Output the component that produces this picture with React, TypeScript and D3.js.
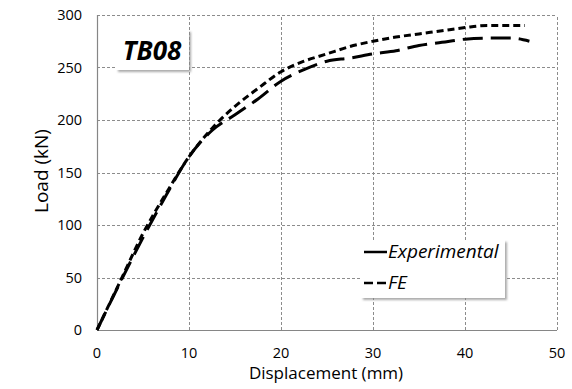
import React, { useRef, useEffect } from 'react';
import * as d3 from 'd3';

const dispExp = [0, 2.5, 5, 7.5, 10, 12.5, 15, 17.5, 20, 22.5, 25, 27.5, 30, 32.5, 35, 37.5, 40, 42.5, 45, 47];
const loadExp = [0, 45, 88, 128, 165, 190, 205, 220, 237, 248, 256, 259, 263, 266, 271, 274, 277, 278, 278, 275];
const dispFE = [0, 2.5, 5, 7.5, 10, 12.5, 15, 17.5, 20, 22.5, 25, 27.5, 30, 32.5, 35, 37.5, 40, 42.5, 45, 46.5];
const loadFE = [0, 46, 92, 130, 165, 192, 213, 230, 246, 256, 263, 270, 275, 279, 282, 285, 288, 290, 290, 290];
const xTicks = [0, 10, 20, 30, 40, 50];
const yTicks = [0, 50, 100, 150, 200, 250, 300];

const font = "'Open Sans', 'Liberation Sans', sans-serif";

const App: React.FC = () => {
  const svgRef = useRef<SVGSVGElement | null>(null);

  useEffect(() => {
    const width = 572;
    const height = 389;
    const margin = { top: 15, right: 15, bottom: 59, left: 97 };

    const svg = d3.select(svgRef.current)
      .attr('width', width)
      .attr('height', height)
      .style('position', 'absolute')
      .style('left', '0px')
      .style('top', '0px')
      .style('background', '#fff');
    svg.selectAll('*').remove();

    const x = d3.scaleLinear().domain([0, 50]).range([margin.left, width - margin.right]);
    const y = d3.scaleLinear().domain([0, 300]).range([height - margin.bottom, margin.top]);

    const defs = svg.append('defs');
    const f = defs.append('filter').attr('id', 'shadow').attr('x', '-10%').attr('y', '-10%').attr('width', '130%').attr('height', '140%');
    f.append('feDropShadow').attr('dx', 2).attr('dy', 2).attr('stdDeviation', 1.2).attr('flood-color', '#888').attr('flood-opacity', 0.7);

    // grid
    const grid = svg.append('g').attr('stroke', '#8c8c8c').attr('stroke-width', 1).attr('stroke-dasharray', '3,2');
    grid.selectAll('.gy').data(yTicks.filter(d => d > 0)).enter().append('line')
      .attr('x1', x(0)).attr('x2', x(50))
      .attr('y1', d => Math.round(y(d)) + 0.5).attr('y2', d => Math.round(y(d)) + 0.5);
    grid.selectAll('.gx').data(xTicks.filter(d => d > 0)).enter().append('line')
      .attr('y1', y(0)).attr('y2', y(300))
      .attr('x1', d => Math.round(x(d)) + 0.5).attr('x2', d => Math.round(x(d)) + 0.5);

    // axes
    const axisG = svg.append('g').attr('stroke', '#868686').attr('stroke-width', 1.2);
    axisG.append('line').attr('x1', x(0) + 0.5).attr('x2', x(0) + 0.5).attr('y1', y(0)).attr('y2', y(300));
    axisG.append('line').attr('x1', x(0)).attr('x2', x(50)).attr('y1', y(0) + 0.5).attr('y2', y(0) + 0.5);

    // tick labels
    svg.append('g').selectAll('text').data(yTicks).enter().append('text')
      .attr('x', x(0) - 15).attr('y', d => y(d)).attr('dy', '0.35em')
      .attr('text-anchor', 'end').attr('font-family', font).attr('font-size', 14.5).attr('fill', '#000')
      .text(d => d);
    svg.append('g').selectAll('text').data(xTicks).enter().append('text')
      .attr('x', d => x(d)).attr('y', y(0) + 28)
      .attr('text-anchor', 'middle').attr('font-family', font).attr('font-size', 14.5).attr('fill', '#000')
      .text(d => d);

    // axis titles
    svg.append('text').attr('x', 326).attr('y', 379)
      .attr('text-anchor', 'middle').attr('font-family', font).attr('font-size', 17).text('Displacement (mm)');
    svg.append('text').attr('transform', `translate(48,171) rotate(-90)`)
      .attr('text-anchor', 'middle').attr('font-family', font).attr('font-size', 19).text('Load (kN)');

    // curves
    const line = d3.line<[number, number]>().x(d => x(d[0])).y(d => y(d[1])).curve(d3.curveMonotoneX);
    const expData = dispExp.map((d, i) => [d, loadExp[i]] as [number, number]);
    const feData = dispFE.map((d, i) => [d, loadFE[i]] as [number, number]);
    svg.append('path').datum(feData).attr('d', line).attr('fill', 'none')
      .attr('stroke', '#000').attr('stroke-width', 3).attr('stroke-dasharray', '7,4');
    svg.append('path').datum(expData).attr('d', line).attr('fill', 'none')
      .attr('stroke', '#000').attr('stroke-width', 3).attr('stroke-dasharray', '20,8');

    // title box
    svg.append('rect').attr('x', 116).attr('y', 30).attr('width', 73).attr('height', 40)
      .attr('fill', '#fff').attr('filter', 'url(#shadow)');
    svg.append('text').attr('x', 152).attr('y', 60).attr('text-anchor', 'middle')
      .attr('font-family', font).attr('font-size', 26).attr('font-weight', 'bold').attr('font-style', 'italic')
      .text('TB08');

    // legend
    const lg = svg.append('g').attr('transform', 'translate(361,240)');
    lg.append('rect').attr('width', 144).attr('height', 58).attr('fill', '#fff').attr('filter', 'url(#shadow)');
    lg.append('line').attr('x1', 3).attr('x2', 26).attr('y1', 12).attr('y2', 12)
      .attr('stroke', '#000').attr('stroke-width', 2.5);
    lg.append('text').attr('x', 27).attr('y', 18).attr('font-family', font).attr('font-size', 19)
      .attr('font-style', 'italic').text('Experimental');
    lg.append('line').attr('x1', 3).attr('x2', 26).attr('y1', 43).attr('y2', 43)
      .attr('stroke', '#000').attr('stroke-width', 2.5).attr('stroke-dasharray', '9,4');
    lg.append('text').attr('x', 27).attr('y', 49).attr('font-family', font).attr('font-size', 19)
      .attr('font-style', 'italic').text('FE');
  }, []);

  return <svg ref={svgRef}></svg>;
};

export default App;
